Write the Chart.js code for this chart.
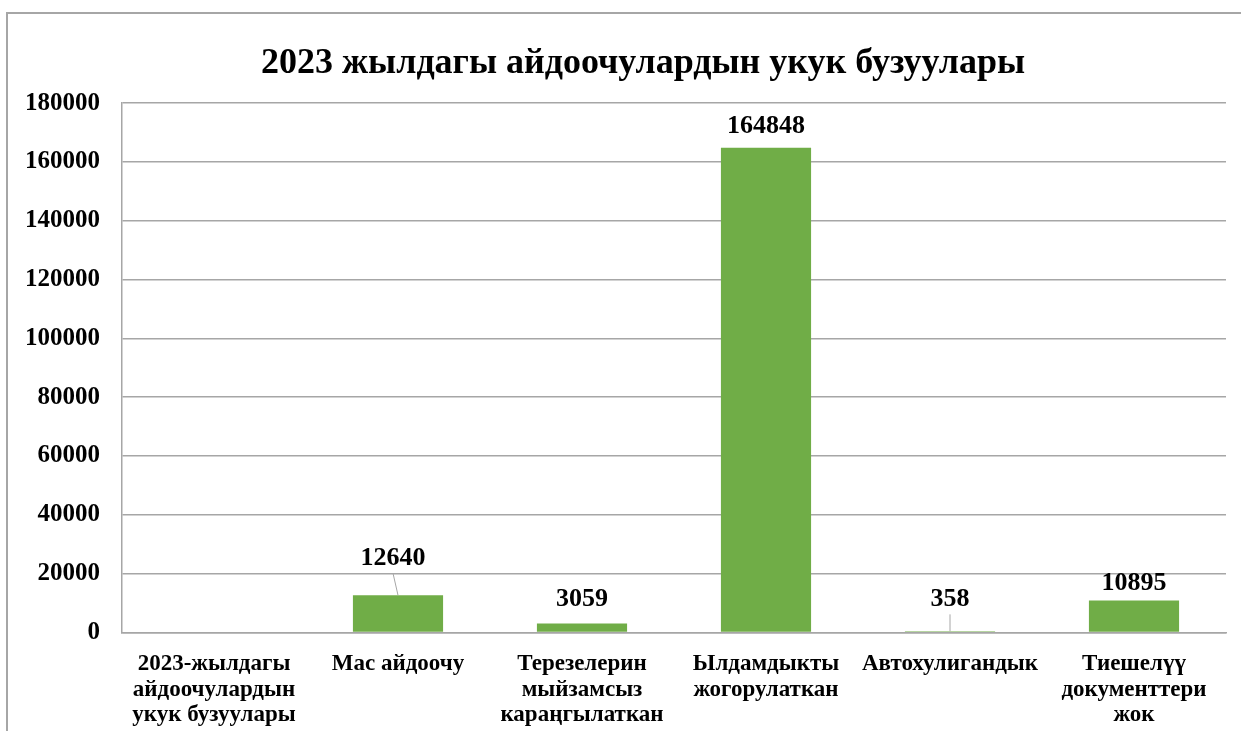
<!DOCTYPE html>
<html>
<head>
<meta charset="utf-8">
<script src="https://cdn.jsdelivr.net/npm/chart.js@4.4.1/dist/chart.umd.min.js"></script>
<style>
    body { margin: 0; overflow: hidden; background: #fff; }
    .frame { position: absolute; left: 6px; top: 12px; width: 1300px; height: 740px;
             border-left: 2px solid #a6a6a6; border-top: 2px solid #a6a6a6; }
    #chart { position: absolute; left: 0; top: 0; }
</style>
</head>
<body>
<div class="frame"></div>
<canvas id="chart" width="1241" height="731"></canvas>
<script>
// data
const chartTitle = "2023 жылдагы айдоочулардын укук бузуулары";
const categories = [
    ["2023-жылдагы", "айдоочулардын", "укук бузуулары"],
    ["Мас айдоочу"],
    ["Терезелерин", "мыйзамсыз", "караңгылаткан"],
    ["Ылдамдыкты", "жогорулаткан"],
    ["Автохулигандык"],
    ["Тиешелүү", "документтери", "жок"]
];
const violations = [null, 12640, 3059, 164848, 358, 10895];
const yTicks = [0, 20000, 40000, 60000, 80000, 100000, 120000, 140000, 160000, 180000];

// label placement (excel labels were dragged by hand)
const labelLift = [0, 37, 24, 21, 32, 17];
const labelShift = [0, -5, 0, 0, 0, 0];
const hasLeader = [false, true, false, false, true, false];

const serif = "'Liberation Serif', 'Times New Roman', serif";
const gridColor = "#a6a6a6";

const valueLabels = {
    id: "valueLabels",
    afterLayout(chart) {
        // excel centres the title on the whole chart frame, which runs past the window on the right
        chart.titleBlock.left = chart.chartArea.left - 62;
        chart.titleBlock.right = chart.chartArea.right;
    },
    afterDatasetsDraw(chart) {
        const ctx = chart.ctx;
        const bars = chart.getDatasetMeta(0).data;
        ctx.save();
        ctx.font = "bold 26px " + serif;
        ctx.fillStyle = "#000";
        ctx.textAlign = "center";
        ctx.textBaseline = "middle";
        bars.forEach((bar, i) => {
            const v = violations[i];
            if (v === null) return;
            const x = bar.x + labelShift[i];
            const y = bar.y - labelLift[i];
            ctx.fillText(String(v), x, y);
            if (hasLeader[i]) {
                ctx.strokeStyle = gridColor;
                ctx.lineWidth = 1;
                ctx.beginPath();
                ctx.moveTo(x, y + 15);
                ctx.lineTo(bar.x, bar.y);
                ctx.stroke();
            }
        });
        ctx.restore();
    }
};

const chart = new Chart(document.getElementById("chart"), {
    type: "bar",
    data: {
        labels: categories,
        datasets: [{
            data: violations,
            backgroundColor: "#70AD47",
            categoryPercentage: 1,
            barPercentage: 0.49
        }]
    },
    options: {
        responsive: false,
        animation: false,
        devicePixelRatio: 1,
        layout: { padding: { left: 0, right: 15, top: 25, bottom: -8 } },
        plugins: {
            legend: { display: false },
            tooltip: { enabled: false },
            title: {
                display: true,
                text: chartTitle,
                color: "#000",
                font: { family: serif, size: 36, weight: "bold" },
                padding: { top: 17, bottom: 18 }
            }
        },
        scales: {
            x: {
                grid: { display: false },
                border: { display: true, color: gridColor, width: 1.5 },
                ticks: {
                    color: "#000",
                    font: { family: serif, size: 23, weight: "bold", lineHeight: 1.11 },
                    maxRotation: 0,
                    autoSkip: false,
                    padding: 11
                }
            },
            y: {
                min: 0,
                max: 180000,
                afterBuildTicks: (scale) => { scale.ticks = yTicks.map(v => ({ value: v })); },
                afterFit: (scale) => { scale.width = 122; },
                grid: { color: gridColor, lineWidth: 1.5, drawTicks: false },
                border: { display: true, color: gridColor, width: 1.5 },
                ticks: {
                    color: "#000",
                    font: { family: serif, size: 25, weight: "bold" },
                    padding: 22,
                    callback: (v) => String(v)
                }
            }
        }
    },
    plugins: [valueLabels]
});
</script>
</body>
</html>
